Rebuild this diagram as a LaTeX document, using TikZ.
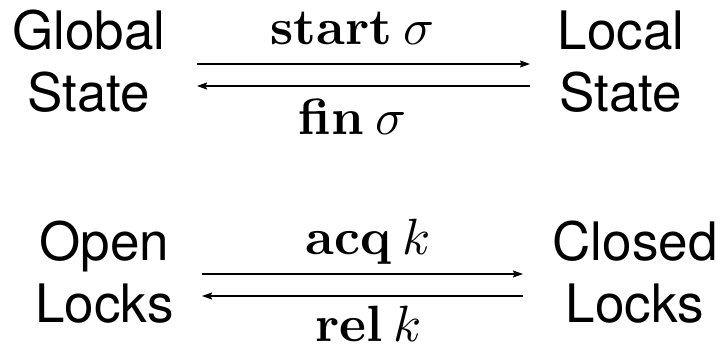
\documentclass[tikz,border=0pt]{standalone}
\usepackage{fontspec}
\setmainfont{TeX Gyre Heros}
\usetikzlibrary{arrows.meta}
\font\labbf=cmbx10 at 51pt
\font\labit=cmmi10 at 51pt
\newcommand{\lbf}[1]{{\labbf #1}}
\newcommand{\lsig}{{\labit\char27}}
\newcommand{\lkay}{{\labit k}}
\begin{document}
\begin{tikzpicture}[x=1pt,y=-1pt,
  state/.style={align=center,inner sep=0pt,anchor=base,font=\fontsize{53}{62}\selectfont},
  lab/.style={inner sep=0pt,anchor=base},
  arr/.style={line width=1.3pt,-{Stealth[length=10pt,width=7pt,inset=1.5pt]}}]
\useasboundingbox (0,0) rectangle (721,352);
\node[state] (global) at (89,112) {Global\\State};
\node[state] (local) at (621,112) {Local\\State};
\node[state] (open) at (104.5,323) {Open\\Locks};
\node[state] (closed) at (635,323) {Closed\\Locks};
\node[lab] (start) at (351.5,45) {\lbf{start}\kern11pt\lsig};
\node[lab] (fin) at (351.5,135) {\lbf{fin}\kern11pt\lsig};
\node[lab] (acq) at (367.5,255) {\lbf{acq}\kern11pt\lkay};
\node[lab] (rel) at (367.5,342) {\lbf{rel}\kern11pt\lkay};
\draw[arr] ([xshift=108pt,yshift=48pt]global.base) -- ([xshift=-91pt,yshift=48pt]local.base);
\draw[arr] ([xshift=-91pt,yshift=26pt]local.base) -- ([xshift=108pt,yshift=26pt]global.base);
\draw[arr] ([xshift=97.5pt,yshift=49pt]open.base) -- ([xshift=-112pt,yshift=49pt]closed.base);
\draw[arr] ([xshift=-112pt,yshift=27pt]closed.base) -- ([xshift=97.5pt,yshift=27pt]open.base);
\end{tikzpicture}
\end{document}
